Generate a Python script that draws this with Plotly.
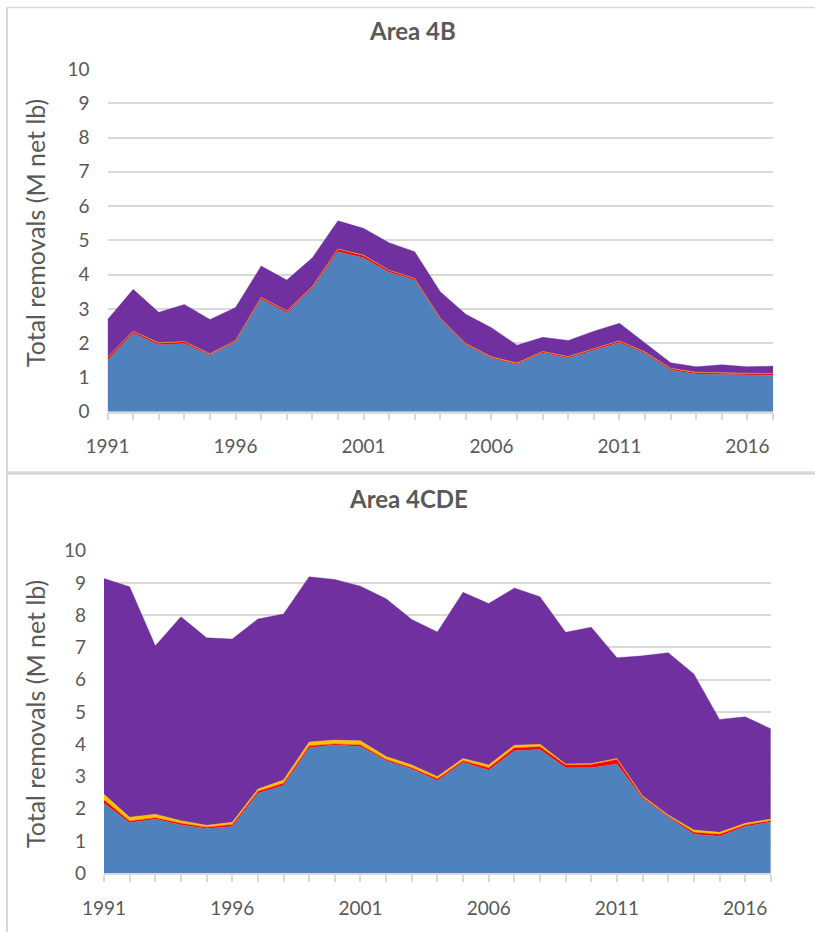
import plotly.graph_objects as go

years = list(range(1991, 2018))

# Area 4B (M net lb)
b_blue = [1.51, 2.29, 1.95, 1.99, 1.65, 2.04, 3.29, 2.89, 3.60, 4.67, 4.49, 4.07, 3.84,
          2.69, 1.95, 1.56, 1.38, 1.72, 1.57, 1.80, 2.02, 1.70, 1.22, 1.10, 1.09, 1.09, 1.06]
b_red = [0.07, 0.05, 0.05, 0.05, 0.03, 0.03, 0.04, 0.04, 0.04, 0.07, 0.07, 0.05, 0.04,
         0.03, 0.03, 0.03, 0.03, 0.03, 0.03, 0.03, 0.04, 0.03, 0.04, 0.04, 0.04, 0.04, 0.04]
b_yellow = [0.01, 0.01, 0.01, 0.01, 0.01, 0.01, 0.01, 0.01, 0.01, 0.01, 0.01, 0.01, 0.01,
            0.01, 0.01, 0.01, 0.01, 0.01, 0.01, 0.01, 0.01, 0.01, 0.01, 0.01, 0.01, 0.01, 0.01]
b_purple = [1.10, 1.22, 0.89, 1.08, 1.00, 0.96, 0.91, 0.90, 0.84, 0.82, 0.78, 0.80, 0.78,
            0.77, 0.85, 0.85, 0.52, 0.41, 0.47, 0.51, 0.51, 0.27, 0.16, 0.16, 0.23, 0.17, 0.22]

# Area 4CDE (M net lb)
c_blue = [2.17, 1.57, 1.68, 1.50, 1.39, 1.45, 2.48, 2.73, 3.89, 3.98, 3.93, 3.49, 3.23,
          2.88, 3.44, 3.20, 3.80, 3.84, 3.27, 3.27, 3.39, 2.32, 1.75, 1.21, 1.15, 1.45, 1.59]
c_red = [0.10, 0.05, 0.04, 0.05, 0.04, 0.06, 0.06, 0.06, 0.06, 0.03, 0.05, 0.04, 0.04,
         0.05, 0.05, 0.07, 0.09, 0.08, 0.09, 0.10, 0.14, 0.04, 0.03, 0.06, 0.06, 0.05, 0.04]
c_yellow = [0.18, 0.12, 0.11, 0.08, 0.06, 0.07, 0.07, 0.10, 0.12, 0.12, 0.13, 0.09, 0.09,
            0.07, 0.07, 0.09, 0.08, 0.08, 0.03, 0.03, 0.03, 0.04, 0.03, 0.07, 0.06, 0.05, 0.05]
c_purple = [6.69, 7.14, 5.22, 6.32, 5.81, 5.68, 5.27, 5.15, 5.12, 4.98, 4.79, 4.89, 4.51,
            4.48, 5.15, 5.00, 4.87, 4.57, 4.08, 4.23, 3.12, 4.34, 5.03, 4.84, 3.50, 3.30, 2.80]

titles = ["Area 4B", "Area 4CDE"]
y_title = "Total removals (M net lb)"
y_ticks = list(range(0, 11))

colors = ["#4F81BD", "#FF0000", "#FFC000", "#7030A0"]
TXT = "#595959"
GRID = "#D9D9D9"
FONT = "Lato, Liberation Sans, sans-serif"
W, H = 815, 932

fig = go.Figure()

panels = [
    ("x", "y", [b_blue, b_red, b_yellow, b_purple], "b"),
    ("x2", "y2", [c_blue, c_red, c_yellow, c_purple], "c"),
]
for xa, ya, series, grp in panels:
    for vals, col in zip(series, colors):
        fig.add_trace(go.Scatter(
            x=years, y=vals, xaxis=xa, yaxis=ya, stackgroup=grp,
            mode="lines", line=dict(width=0.4, color=col), fillcolor=col,
            showlegend=False, hoverinfo="x+y"))

def px_x(p):
    return p / W

def px_y(p):
    return 1 - p / H

xdom = [[107.6, 773.0], [104.0, 770.8]]
ydom = [[69.0, 411.7], [550.7, 873.3]]

axis_common_x = dict(
    range=[1991, 2017], tickmode="linear", tick0=1991, dtick=5,
    ticks="outside", ticklen=7, tickwidth=1.5, tickcolor=GRID,
    minor=dict(dtick=1, tick0=1991, ticks="outside", ticklen=7, tickwidth=1.5,
               tickcolor=GRID, showgrid=False),
    showline=True, linecolor=GRID, linewidth=1.5, showgrid=False, zeroline=False,
    tickfont=dict(family=FONT, size=19, color=TXT), automargin=False,
    ticklabelstandoff=10,
)
axis_common_y = dict(
    range=[0, 10], tickmode="array", tickvals=y_ticks,
    showgrid=True, gridcolor=GRID, gridwidth=1.6, zeroline=False, showline=False,
    ticks="", tickfont=dict(family=FONT, size=19, color=TXT), automargin=False,
    ticklabelstandoff=17,
)

fig.update_layout(
    xaxis=dict(domain=[px_x(xdom[0][0]), px_x(xdom[0][1])], anchor="y", **axis_common_x),
    yaxis=dict(domain=[px_y(ydom[0][1]), px_y(ydom[0][0])], anchor="x", **axis_common_y),
    xaxis2=dict(domain=[px_x(xdom[1][0]), px_x(xdom[1][1])], anchor="y2", **axis_common_x),
    yaxis2=dict(domain=[px_y(ydom[1][1]), px_y(ydom[1][0])], anchor="x2", **axis_common_y),
)

annotations = []
for t, (cx, cy) in zip(titles, [(413, 30.5), (408, 498)]):
    annotations.append(dict(text=f"<b>{t}</b>", x=px_x(cx), y=px_y(cy), xref="paper", yref="paper",
                            showarrow=False, xanchor="center", yanchor="middle",
                            font=dict(family=FONT, size=24, color=TXT)))
for cy in [233, 714]:
    annotations.append(dict(text=y_title, x=px_x(35), y=px_y(cy), xref="paper", yref="paper",
                            showarrow=False, xanchor="center", yanchor="middle", textangle=-90,
                            font=dict(family=FONT, size=25, color=TXT)))

shapes = [
    dict(type="line", xref="paper", yref="paper", x0=px_x(7), x1=1, y0=px_y(7.5), y1=px_y(7.5),
         line=dict(color=GRID, width=1.5)),
    dict(type="line", xref="paper", yref="paper", x0=px_x(7), x1=px_x(7), y0=px_y(7.5), y1=0,
         line=dict(color=GRID, width=2)),
    dict(type="line", xref="paper", yref="paper", x0=px_x(7), x1=1, y0=px_y(473), y1=px_y(473),
         line=dict(color=GRID, width=3.5)),
]

fig.update_layout(
    width=W, height=H, margin=dict(l=0, r=0, t=0, b=0),
    paper_bgcolor="white", plot_bgcolor="white",
    annotations=annotations, shapes=shapes, showlegend=False,
)

fig.write_html("out.html", config={"displayModeBar": False},
               post_script="document.body.style.margin='0';document.body.style.overflow='hidden';")
